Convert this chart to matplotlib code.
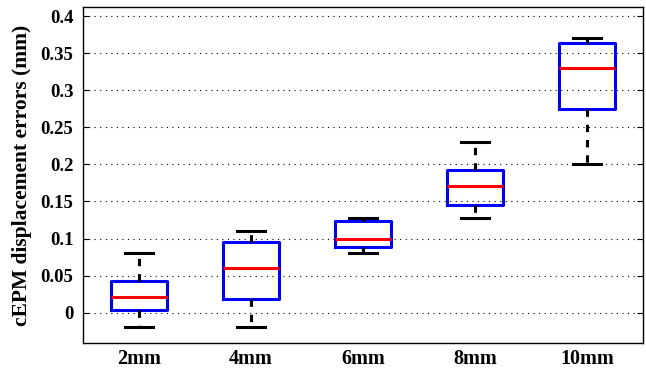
import matplotlib.pyplot as plt
import numpy as np

# Data: box statistics per marker spacing
labels = ['2mm', '4mm', '6mm', '8mm', '10mm']
whisker_low = [-0.02, -0.02, 0.08, 0.128, 0.20]
q1 = [0.003, 0.018, 0.088, 0.145, 0.275]
median = [0.021, 0.060, 0.100, 0.171, 0.330]
q3 = [0.043, 0.095, 0.123, 0.192, 0.364]
whisker_high = [0.08, 0.11, 0.128, 0.23, 0.37]

plt.rcParams['font.family'] = 'Liberation Serif'
plt.rcParams['font.weight'] = 'bold'

fig = plt.figure(figsize=(6.46, 3.68), dpi=100)
ax = fig.add_axes([0.1285, 0.068, 0.8669, 0.913])

stats = []
for i in range(len(labels)):
    stats.append(dict(label=labels[i], med=median[i], q1=q1[i], q3=q3[i],
                      whislo=whisker_low[i], whishi=whisker_high[i], fliers=[]))

positions = np.arange(1, len(labels) + 1)
ax.bxp(stats, positions=positions, widths=0.5, showfliers=False,
       boxprops=dict(color='#0000ff', linewidth=2.2),
       medianprops=dict(color='#ff0000', linewidth=2.2),
       whiskerprops=dict(color='black', linewidth=2.2, linestyle=(0, (2.4, 2.6))),
       capprops=dict(color='black', linewidth=2.2),
       capwidths=0.25)

ax.set_xlim(0.5, 5.5)
ax.set_ylim(-0.041, 0.4125)
ax.set_yticks(np.arange(0, 0.41, 0.05))
ax.set_yticklabels(['0', '0.05', '0.1', '0.15', '0.2', '0.25', '0.3', '0.35', '0.4'])
ax.set_xticks(positions)
ax.set_xticklabels(labels)

ax.yaxis.grid(True, linestyle=(0, (1, 4)), color='black', linewidth=0.8)
ax.set_axisbelow(True)
ax.tick_params(axis='y', direction='in', length=4, right=True, labelsize=13.5, pad=7)
ax.tick_params(axis='x', length=0, labelsize=14.5, pad=4)
for s in ax.spines.values():
    s.set_linewidth(1.0)

ax.set_ylabel('cEPM displacement errors (mm)', fontsize=15.5, fontweight='bold', labelpad=6)

plt.savefig('out.png', dpi=100)
plt.close()
